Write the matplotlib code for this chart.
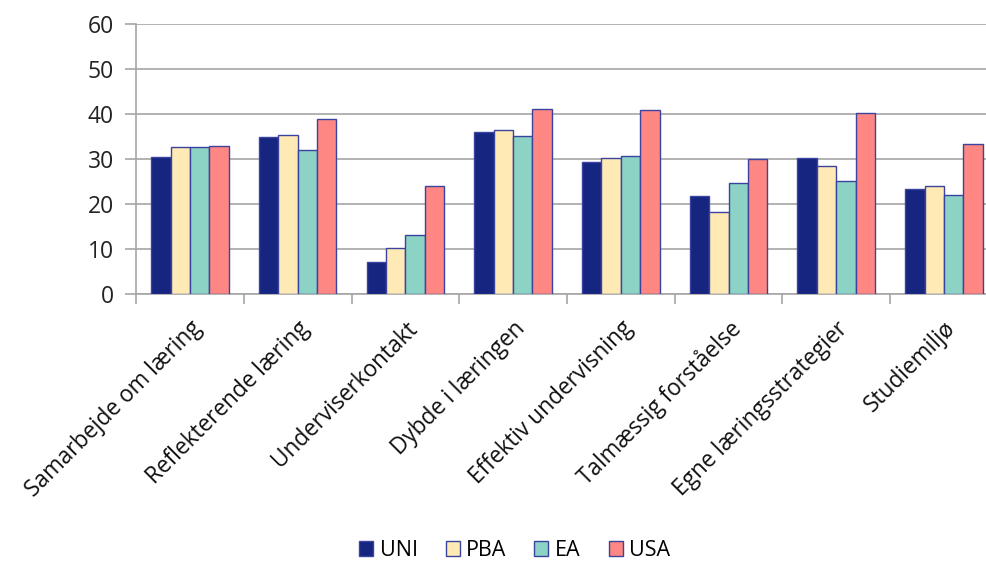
import numpy as np
import matplotlib.pyplot as plt

plt.rcParams['font.family'] = ['Open Sans', 'DejaVu Sans']

categories = ["Samarbejde om læring", "Reflekterende læring", "Underviserkontakt",
              "Dybde i læringen", "Effektiv undervisning", "Talmæssig forståelse",
              "Egne læringsstrategier", "Studiemiljø"]
uni = [30.5, 34.8, 7.1, 35.9, 29.4, 21.9, 30.2, 23.4]
pba = [32.7, 35.4, 10.4, 36.5, 30.2, 18.3, 28.5, 24.1]
ea = [32.7, 31.9, 13.2, 35.0, 30.7, 24.7, 25.1, 22.0]
usa = [33.0, 38.8, 24.1, 41.0, 40.8, 29.9, 40.2, 33.4]

series = [("UNI", uni, "#152580"), ("PBA", pba, "#FFE9B4"),
          ("EA", ea, "#8CD3C5"), ("USA", usa, "#FF8783")]

fig = plt.figure(figsize=(9.86, 5.63), dpi=100)
ax = fig.add_axes([0.138, 0.477, 0.874, 0.481])

x = np.arange(len(categories))
w = 0.18
for i, (name, vals, col) in enumerate(series):
    ax.bar(x + (i - 1.5) * w, vals, w, color=col, edgecolor="#3B43A0",
           linewidth=1.0, label=name, zorder=3)

ax.set_xlim(-0.5, len(categories) - 0.5)
ax.set_ylim(0, 60)
ax.set_yticks(range(0, 61, 10))
ax.yaxis.grid(True, color="#A6A6A6", linewidth=1.2, zorder=0)
ax.set_xticks(x)
ax.set_xticklabels(categories, rotation=45, ha="right", rotation_mode="anchor",
                   fontsize=16.3, color="#111111")
ax.tick_params(axis="x", length=0, pad=16)
ax.set_xticks(np.arange(-0.5, len(categories), 1), minor=True)
ax.tick_params(axis="x", which="minor", length=7, color="#A6A6A6", width=1.2)
ax.tick_params(axis="y", length=8, color="#A6A6A6", width=1.2, labelsize=16.5,
               labelcolor="#222222", pad=8)
for s in ["top", "right"]:
    ax.spines[s].set_visible(False)
for s in ["left", "bottom"]:
    ax.spines[s].set_color("#A6A6A6")
    ax.spines[s].set_linewidth(1.2)

fig.legend(loc="center", bbox_to_anchor=(0.522, 0.022), ncol=4, frameon=False,
           fontsize=15.5, handlelength=0.65, handleheight=0.65, handletextpad=0.3,
           columnspacing=1.3)

fig.savefig("out.png", dpi=100)
